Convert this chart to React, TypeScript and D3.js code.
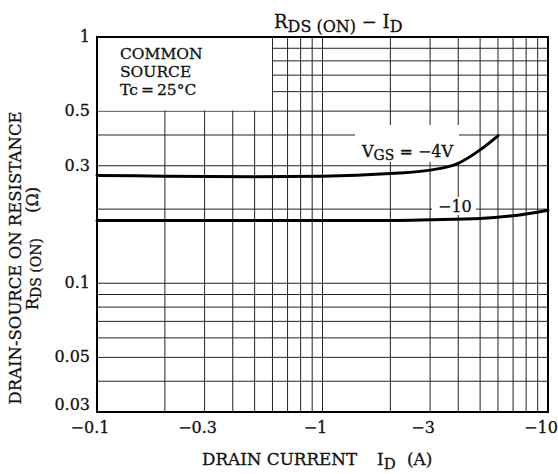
import React from "react"
import * as d3 from "d3"

// tick labels (drain current is negative, plotted by magnitude)
const xTickValues = [0.1, 0.3, 1, 3, 10]
const xTickLabels = ["−0.1", "−0.3", "−1", "−3", "−10"]
const yTickValues = [1, 0.5, 0.3, 0.1, 0.05, 0.03]
const yTickLabels = ["1", "0.5", "0.3", "0.1", "0.05", "0.03"]

// VGS = -4V
const idVgs4 = [0.1, 0.15, 0.2, 0.5, 1, 2, 3, 4, 5, 6]
const rdsVgs4 = [0.274, 0.273, 0.272, 0.271, 0.272, 0.279, 0.288, 0.307, 0.348, 0.397]
// VGS = -10V
const idVgs10 = [0.1, 0.5, 1, 2, 3, 5, 7, 10]
const rdsVgs10 = [0.18, 0.18, 0.18, 0.18, 0.181, 0.183, 0.188, 0.198]

const W = 558
const H = 474
const font = "'DejaVu Serif', serif"

const App = () => {
  const x = d3.scaleLog().domain([0.1, 10]).range([97, 548])
  const y = d3.scaleLog().domain([0.03, 1]).range([412, 37])

  const xGrid = x.ticks()
  const yGrid = y.ticks()

  const line = d3.line<[number, number]>()
    .x(d => x(d[0]))
    .y(d => y(d[1]))
    .curve(d3.curveMonotoneX)

  const curve4 = idVgs4.map((v, i) => [v, rdsVgs4[i]] as [number, number])
  const curve10 = idVgs10.map((v, i) => [v, rdsVgs10[i]] as [number, number])

  // bottom label sits a bit higher so it clears the x tick labels
  const yLabelPos = (v: number) => (v === 0.03 ? y(v) - 2 : y(v) + 5)

  return (
    <div style={{ position: "fixed", left: 0, top: 0 }}>
      <svg width={W} height={H} style={{ display: "block", background: "#fff" }} fontFamily={font}>
        <style>{"text { fill: #111; stroke: #111; stroke-width: 0.3px; white-space: pre; }"}</style>
        <rect width={W} height={H} fill="#fff" />

        {/* grid */}
        <g stroke="#222" strokeWidth={1}>
          {xGrid.map((v, i) => (
            <line key={"gx" + i} x1={x(v)} x2={x(v)} y1={y(1)} y2={y(0.03)} />
          ))}
          {yGrid.map((v, i) => (
            <line key={"gy" + i} x1={x(0.1)} x2={x(10)} y1={y(v)} y2={y(v)} />
          ))}
        </g>

        {/* legend box hides the grid */}
        <rect x={x(0.1) + 1} y={y(1) + 1} width={x(0.6) - x(0.1) - 1.5} height={y(0.5) - y(1) - 1.5} fill="#fff" />
        <g fontSize={15.5}>
          <text x={120} y={59}>COMMON</text>
          <text x={120} y={77}>SOURCE</text>
          <text x={120} y={95}>{"Tc\u2009=\u200925°C"}</text>
        </g>

        {/* label backgrounds */}
        <rect x={355} y={125} width={104} height={37} fill="#fff" />
        <rect x={432} y={197} width={44} height={18} fill="#fff" />

        {/* curves */}
        <g fill="none" stroke="#000" strokeWidth={3} strokeLinecap="round">
          <path d={line(curve4) || ""} />
          <path d={line(curve10) || ""} />
        </g>

        <text x={362} y={157} fontSize={16}>
          V<tspan fontSize={14} dy={3}>GS</tspan><tspan dy={-3}>{" = −4V"}</tspan>
        </text>
        <text x={438} y={212} fontSize={16}>−10</text>

        {/* frame */}
        <rect x={x(0.1)} y={y(1)} width={x(10) - x(0.1)} height={y(0.03) - y(1)} fill="none" stroke="#000" strokeWidth={2} />

        {/* y ticks */}
        <g fontSize={16} textAnchor="end">
          {yTickValues.map((v, i) => (
            <text key={"yt" + i} x={90} y={yLabelPos(v)}>{yTickLabels[i]}</text>
          ))}
        </g>
        {/* x ticks */}
        <g fontSize={16} textAnchor="middle">
          {xTickValues.map((v, i) => (
            <text key={"xt" + i} x={x(v) - 7} y={433}>{xTickLabels[i]}</text>
          ))}
        </g>

        {/* title */}
        <text x={274} y={28} fontSize={18}>
          R<tspan fontSize={16} dy={4}>{"DS (ON)"}</tspan><tspan dy={-4}>{" − I"}</tspan><tspan fontSize={16} dy={4}>D</tspan>
        </text>

        {/* x axis title */}
        <text x={202} y={465} fontSize={16.8}>DRAIN CURRENT</text>
        <text x={377} y={465} fontSize={16.8}>
          I<tspan fontSize={15} dy={4}>D</tspan>
        </text>
        <text x={407} y={465} fontSize={16.8}>(A)</text>

        {/* y axis title */}
        <text transform="translate(21,258) rotate(-90)" textAnchor="middle" fontSize={16.5}>
          DRAIN-SOURCE ON RESISTANCE
        </text>
        <text transform="translate(38,310) rotate(-90)" fontSize={16}>
          R<tspan fontSize={14} dy={3}>{"DS (ON)"}</tspan>
        </text>
        <text transform="translate(38,187) rotate(-90)" textAnchor="end" fontSize={16}>(Ω)</text>
      </svg>
    </div>
  )
}

export default App
